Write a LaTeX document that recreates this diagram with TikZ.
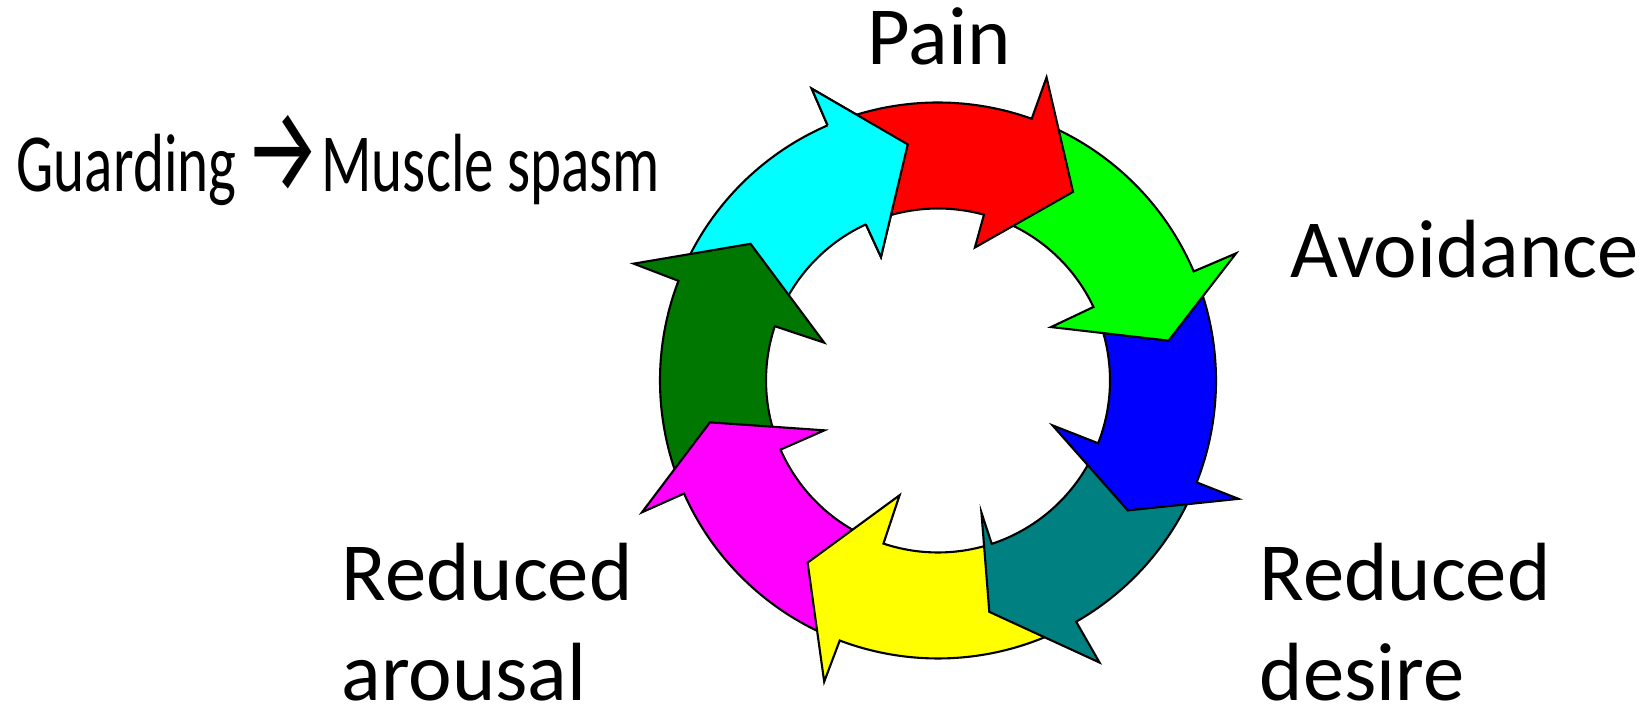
\documentclass[tikz,border=0pt]{standalone}
\usepackage{fontspec}
\setmainfont{Carlito}
\newfontfamily\arrowfont{Fira Sans}
\definecolor{cycyan}{RGB}{0,255,255}
\definecolor{cyred}{RGB}{255,0,0}
\definecolor{cygreen}{RGB}{0,255,0}
\definecolor{cyblue}{RGB}{0,0,255}
\definecolor{cyteal}{RGB}{0,128,128}
\definecolor{cyyellow}{RGB}{255,255,0}
\definecolor{cymagenta}{RGB}{255,0,255}
\definecolor{cydkgreen}{RGB}{0,119,0}

\begin{document}
\begin{tikzpicture}[
  x=0.1mm, y=0.1mm,
  every node/.style={font=\fontsize{23.5}{28.6}\selectfont, inner sep=0pt},
  lbl/.style={anchor=base west, align=left, text depth=0pt},
  seg/.style={draw=black, line width=0.6pt, line join=miter},
]
  \useasboundingbox (0,0) rectangle (1644,719);

  % Ring segments, clockwise, each tail tucked under the head before it
  \begin{scope}[shift={(938,338.5)}]
    \foreach \col/\tlo/\tli/\wo/\ro/\tp/\rt/\wi/\ri in {
        cycyan/155/160.6/113.4/318/97.3/238/114.8/136,
        cydkgreen/-160/-157.3/-201/326/-216.1/232/-198.4/120,
        cymagenta/-114.7/-109.5/-156/324/-169.6/232/-156.3/124,
        cyyellow/-64.2/-72.8/-110.7/322/-125.6/224/-108.5/121,
        cyteal/-25.5/-22.4/-60.2/325/-77.5/237/-71.8/139,
        cyblue/19.1/24.3/-21.5/323/-34.4/230/-21.4/123,
        cygreen/66.3/73.5/23.1/324/9.8/234/25.3/125,
        cyred/109.4/113.8/70.3/322/54.4/232/74.5/138}
      \filldraw[seg, fill=\col] (\tlo:278) arc[start angle=\tlo, end angle=\wo, radius=278]
        -- (\wo:\ro) -- (\tp:\rt) -- (\wi:\ri) -- (\wi:172)
        arc[start angle=\wi, end angle=\tli, radius=172] -- cycle;
    % cyan head once more, over the red tail
    \fill[cycyan] (113.4:278) -- (113.4:318) -- (97.3:238) -- (114.8:136) -- (114.8:172) -- cycle;
    \draw[seg] (113.4:278) -- (113.4:318) -- (97.3:238) -- (114.8:136) -- (114.8:172);
  \end{scope}

  % Labels
  \node[lbl] (pain) at (867,654) {Pain};
  \node[lbl] (avoid) at (1290,441.7) {Avoidance};
  \node[lbl] (guard) at (16,527)
    {\scalebox{0.715}[1]{Guarding\kern-2pt\ {\arrowfont\fontsize{34}{34}\selectfont →}\kern-5.4pt\ Muscle spasm}};
  \node[lbl] (desire) at (1259,18) {Reduced\\desire};
  \node[lbl] (arousal) at (341,18) {Reduced\\arousal};
\end{tikzpicture}
\end{document}
